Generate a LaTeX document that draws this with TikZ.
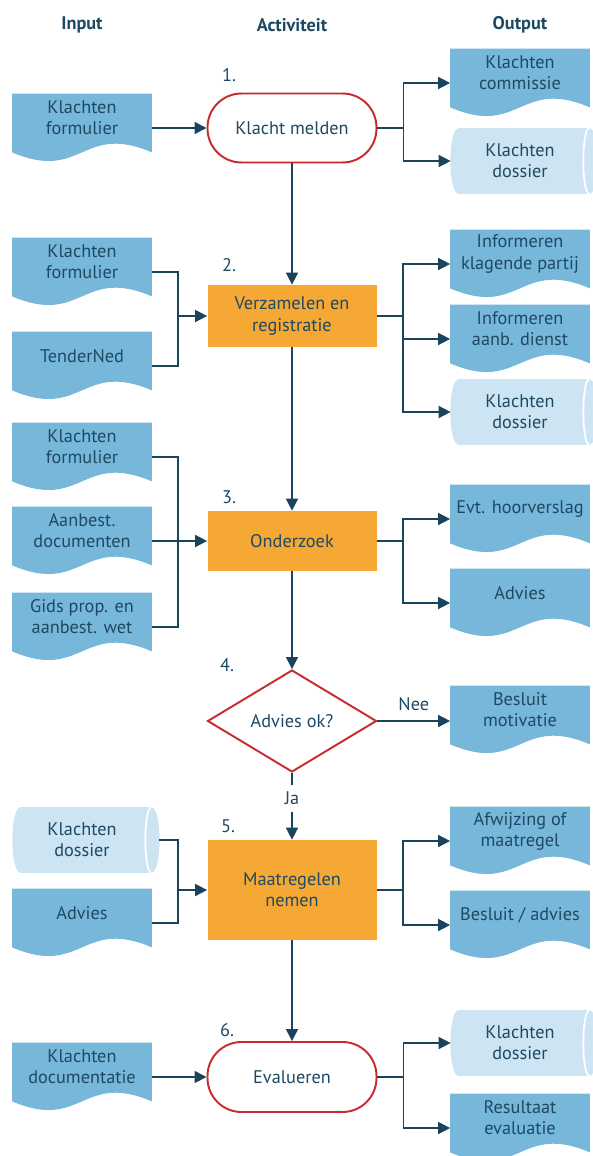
\documentclass[tikz,border=0pt]{standalone}
\usepackage{fontspec}
\setmainfont{PT Sans}
\usetikzlibrary{arrows.meta,shapes.geometric,backgrounds}
\definecolor{ink}{RGB}{31,73,98}
\definecolor{linec}{RGB}{26,68,92}
\definecolor{docblue}{RGB}{118,183,218}
\definecolor{storeblue}{RGB}{205,228,243}
\definecolor{procorange}{RGB}{245,168,52}
\definecolor{termred}{RGB}{201,42,46}
\newcommand\pxl{0.02cm}

\begin{document}
\begin{tikzpicture}[x=0.02cm, y=-0.02cm,
  every node/.style={font=\fontsize{10.4}{12}\selectfont, text=ink},
  head/.style={font=\fontsize{10.4}{12}\selectfont\bfseries},
  docu/.style={inner sep=0, minimum width=139*\pxl, minimum height=48*\pxl, align=center},
  store/.style={inner sep=0, minimum width=138*\pxl, minimum height=65*\pxl, align=center},
  term/.style={draw=termred, line width=1.1pt, fill=white, rounded corners=34*\pxl,
    minimum width=169*\pxl, minimum height=69*\pxl, inner sep=0},
  proc/.style={fill=procorange, minimum width=169*\pxl, minimum height=60*\pxl, inner sep=0, align=center},
  choice/.style={diamond, draw=termred, line width=1.1pt, fill=white,
    minimum width=169*\pxl, minimum height=102*\pxl, inner sep=0},
  conn/.style={draw=linec, line width=0.85pt},
  flow/.style={conn, -{Triangle[length=6.8pt,width=6.8pt]}}]
  \useasboundingbox (0,0) rectangle (592,1156);

  \node[head] (hin) at (82,25) {Input};
  \node[head] (hact) at (292,25) {Activiteit};
  \node[head] (hout) at (520,25) {Output};

  \node (n1) at (229,75) {1.};
  \node (n2) at (229,265) {2.};
  \node (n3) at (229,497) {3.};
  \node (n4) at (227,665) {4.};
  \node (n5) at (228,826) {5.};
  \node (n6) at (227,1030) {6.};

  \node[term] (s1) at (292,128) {Klacht melden};
  \node[proc, minimum height=62*\pxl] (s2) at (292,316) {Verzamelen en\\registratie};
  \node[proc] (s3) at (292,541) {Onderzoek};
  \node[choice] (s4) at (292,721) {Advies ok?};
  \node[proc, minimum height=100*\pxl] (s5) at (292,890) {Maatregelen\\nemen};
  \node[term, minimum height=70*\pxl] (s6) at (292,1077) {Evalueren};

  \node[docu] (i1) at (82,118) {Klachten\\formulier};
  \node[docu] (i2a) at (82,262) {Klachten\\formulier};
  \node[docu] (i2b) at (82,356) {TenderNed};
  \node[docu] (i3a) at (82,447) {Klachten\\formulier};
  \node[docu] (i3b) at (82,531) {Aanbest.\\documenten};
  \node[docu] (i3c) at (82,617) {Gids prop. en\\aanbest. wet};
  \node[store] (i5a) at (82,840) {Klachten\\dossier};
  \node[docu] (i5b) at (82,913) {Advies};
  \node[docu] (i6) at (82,1067) {Klachten\\documentatie};

  \node[docu] (o1a) at (520,73) {Klachten\\commissie};
  \node[store] (o1b) at (520,161) {Klachten\\dossier};
  \node[docu] (o2a) at (520,254) {Informeren\\klagende partij};
  \node[docu] (o2b) at (520,329) {Informeren\\aanb. dienst};
  \node[store] (o2c) at (520,412) {Klachten\\dossier};
  \node[docu] (o3a) at (520,509) {Evt. hoorverslag};
  \node[docu] (o3b) at (520,593) {Advies};
  \node[docu] (o4) at (520,710) {Besluit\\motivatie};
  \node[docu] (o5a) at (520,831) {Afwijzing of\\maatregel};
  \node[docu] (o5b) at (520,915) {Besluit / advies};
  \node[store] (o6a) at (520,1043) {Klachten\\dossier};
  \node[docu] (o6b) at (520,1118) {Resultaat\\evaluatie};

  \draw[flow] (s1) -- (s2);
  \draw[flow] (s2) -- (s3);
  \draw[flow] (s3) -- (s4);
  \draw[flow] (s4) -- node[pos=0.38, fill=white, inner xsep=2pt, inner ysep=4pt] {Ja} (s5);
  \draw[flow] (s5) -- (s6);
  \draw[flow] (s4.east) -- (s4.east -| o4.west) node[midway, above, yshift=2pt] {Nee};

  \coordinate (j2) at ([xshift=-29*\pxl]s2.west);
  \coordinate (j3) at ([xshift=-29*\pxl]s3.west);
  \coordinate (j5) at ([xshift=-29*\pxl]s5.west);
  \draw[flow] ([yshift=-10*\pxl]i1.east) -- (s1);
  \draw[conn] ([yshift=-10*\pxl]i2a.east) -| (j2) |- ([yshift=-10*\pxl]i2b.east);
  \draw[flow] (j2) -- (s2);
  \draw[conn] ([yshift=-10*\pxl]i3a.east) -| (j3) |- ([yshift=-10*\pxl]i3c.east);
  \draw[flow] ([yshift=-10*\pxl]i3b.east) -- (s3);
  \draw[conn] ([xshift=8*\pxl]i5a.east) -| (j5) |- ([yshift=-10*\pxl]i5b.east);
  \draw[flow] (j5) -- (s5);
  \draw[flow] ([yshift=-10*\pxl]i6.east) -- (s6);

  \coordinate (k1) at ([xshift=26*\pxl]s1.east);
  \coordinate (k2) at ([xshift=26*\pxl]s2.east);
  \coordinate (k3) at ([xshift=26*\pxl]s3.east);
  \coordinate (k5) at ([xshift=26*\pxl]s5.east);
  \coordinate (k6) at ([xshift=26*\pxl]s6.east);
  \draw[conn] (s1.east) -- (k1);
  \draw[flow] (k1) |- ([yshift=-10*\pxl]o1a.west);
  \draw[flow] (k1) |- (o1b.west);
  \draw[conn] (s2.east) -- (k2);
  \foreach \o in {o2a,o2b}
    \draw[flow] (k2) |- ([yshift=-10*\pxl]\o.west);
  \draw[flow] (k2) |- (o2c.west);
  \draw[conn] (s3.east) -- (k3);
  \foreach \o in {o3a,o3b}
    \draw[flow] (k3) |- ([yshift=-10*\pxl]\o.west);
  \draw[conn] (s5.east) -- (k5);
  \foreach \o in {o5a,o5b}
    \draw[flow] (k5) |- ([yshift=-10*\pxl]\o.west);
  \draw[conn] (s6.east) -- (k6);
  \draw[flow] (k6) |- (o6a.west);
  \draw[flow] (k6) |- ([yshift=-10*\pxl]o6b.west);

  \begin{scope}[on background layer]
    \foreach \d in {i1,i2a,i2b,i3a,i3b,i3c,i5b,i6,o1a,o2a,o2b,o3a,o3b,o4,o5a,o5b,o6b}
      \fill[docblue] (\d.north west) -- (\d.north east) -- ([yshift=-10*\pxl]\d.south east)
        .. controls +(-70,-30) and +(70,30) .. ([yshift=-10*\pxl]\d.south west) -- cycle;
    \foreach \d in {i5a,o1b,o2c,o6a} {
      \fill[storeblue] ([xshift=8*\pxl]\d.north west) -- (\d.north east)
        .. controls +(11,0) and +(11,0) .. (\d.south east) -- ([xshift=8*\pxl]\d.south west)
        .. controls +(-11,0) and +(-11,0) .. ([xshift=8*\pxl]\d.north west) -- cycle;
      \draw[white, line width=1pt] (\d.north east) .. controls +(-8,0) and +(-8,0) .. (\d.south east);
    }
  \end{scope}
\end{tikzpicture}
\end{document}
